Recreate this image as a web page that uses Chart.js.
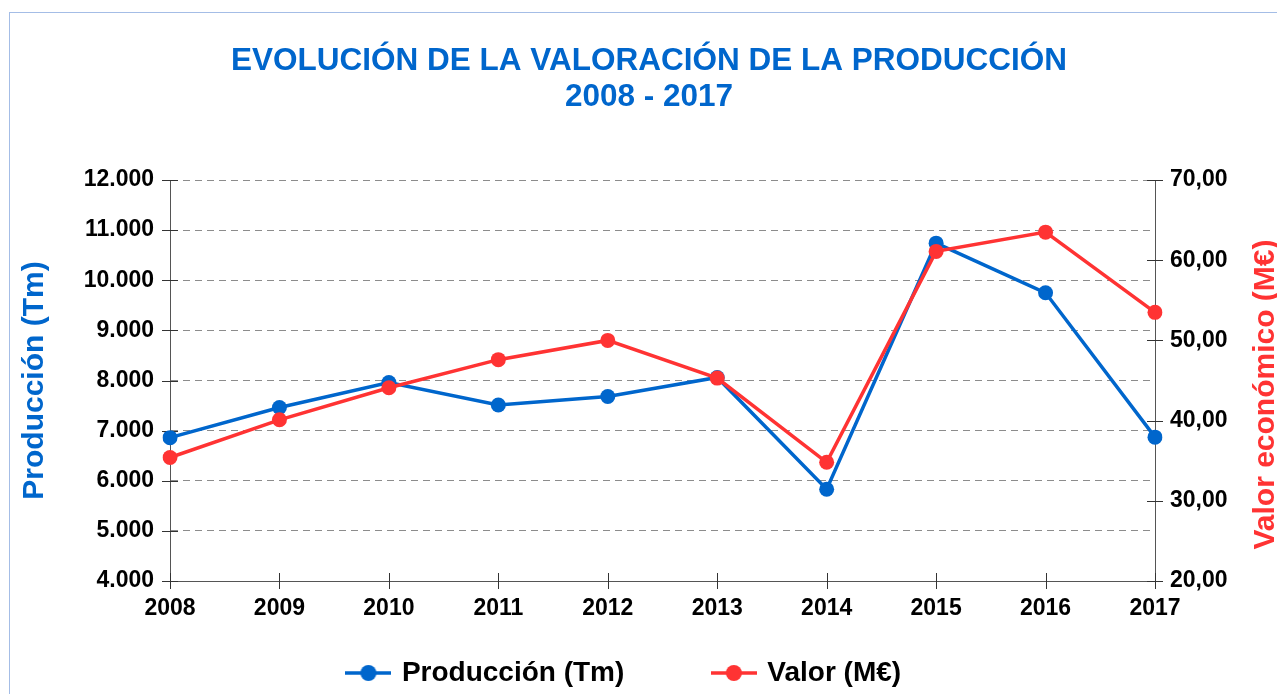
<!DOCTYPE html>
<html><head><meta charset="utf-8">
<script src="https://cdn.jsdelivr.net/npm/chart.js@4.4.1/dist/chart.umd.min.js"></script>
<style>html,body{margin:0;padding:0;background:#fff;overflow:hidden}canvas{display:block}</style>
</head><body>
<canvas id="c" width="1277" height="694"></canvas>
<script>
// ---- data ----
const years = ['2008','2009','2010','2011','2012','2013','2014','2015','2016','2017'];
const produccion = [6860, 7460, 7960, 7510, 7680, 8060, 5830, 10740, 9750, 6870];
const valor = [35.4, 40.1, 44.1, 47.6, 50.0, 45.3, 34.8, 61.1, 63.5, 53.5];
const titleLines = ['EVOLUCIÓN DE LA VALORACIÓN DE LA PRODUCCIÓN', '2008 - 2017'];
const seriesNames = ['Producción (Tm)', 'Valor (M€)'];
const leftAxisTitle = 'Producción (Tm)';
const rightAxisTitle = 'Valor económico (M€)';
const leftRange = [4000, 12000, 1000];
const rightRange = [20, 70, 10];

const BLUE = '#0066cc', RED = '#ff3333';
const FONT = '"Liberation Sans", Arial, Helvetica, sans-serif';

function fmtThousands(v){ return String(Math.round(v)).replace(/\B(?=(\d{3})+(?!\d))/g, '.'); }
function fmtDec(v){ return Number(v).toFixed(2).replace('.', ','); }

function legendIcon(color){
  const c = document.createElement('canvas');
  c.width = 46; c.height = 20;
  const x = c.getContext('2d');
  x.strokeStyle = color; x.lineWidth = 3.5;
  x.beginPath(); x.moveTo(0, 10); x.lineTo(46, 10); x.stroke();
  x.fillStyle = color; x.beginPath(); x.arc(23, 10, 8, 0, Math.PI*2); x.fill();
  return c;
}
const icons = [legendIcon(BLUE), legendIcon(RED)];

const framePlugin = {
  id: 'frame',
  beforeDraw(chart){
    const ctx = chart.ctx;
    ctx.save();
    ctx.fillStyle = '#fff'; ctx.fillRect(0,0,chart.width,chart.height);
    ctx.strokeStyle = '#a4bde6'; ctx.lineWidth = 1;
    ctx.strokeRect(9.5, 12.5, chart.width + 20, chart.height + 20);
    ctx.restore();
  }
};

const shiftPlugin = {
  id: 'shift',
  afterLayout(chart){
    const t = chart.titleBlock;
    if (t){ t.left += 10.5; t.right += 10.5; }
    const lg = chart.legend;
    if (lg){
      const p = lg.options.labels.padding;
      const fs = lg.options.labels.font.size;
      const dy = 673 - (lg.top + p + fs/2);
      lg.top += dy;
      lg.left -= 13.5; lg.right -= 13.5;
    }
  }
};

const crossTicks = {
  id: 'crossTicks',
  beforeDatasetsDraw(chart){
    const ctx = chart.ctx, a = chart.chartArea;
    ctx.save();
    ctx.strokeStyle = '#333'; ctx.lineWidth = 1;
    const L = 8;
    const x = chart.scales.x, y = chart.scales.y, y1 = chart.scales.y1;
    ctx.beginPath();
    x.ticks.forEach((t,i)=>{ const px = Math.round(x.getPixelForTick(i))+0.5; ctx.moveTo(px, a.bottom - L); ctx.lineTo(px, a.bottom + L); });
    y.ticks.forEach((t,i)=>{ const py = Math.round(y.getPixelForTick(i))+0.5; ctx.moveTo(a.left - L, py); ctx.lineTo(a.left + L, py); });
    y1.ticks.forEach((t,i)=>{ const py = Math.round(y1.getPixelForTick(i))+0.5; ctx.moveTo(a.right - L, py); ctx.lineTo(a.right + L, py); });
    ctx.stroke();
    ctx.restore();
  }
};

const rightTitle = {
  id: 'rightTitle',
  afterDraw(chart){
    const ctx = chart.ctx, a = chart.chartArea, s = chart.scales.y1;
    ctx.save();
    ctx.translate(s.right - 11, (a.top + a.bottom)/2 + 14);
    ctx.rotate(-Math.PI/2);
    ctx.font = 'bold 30px ' + FONT;
    ctx.fillStyle = RED;
    ctx.textAlign = 'center'; ctx.textBaseline = 'middle';
    ctx.fillText(rightAxisTitle, 0, 0);
    ctx.restore();
  }
};

new Chart(document.getElementById('c'), {
  type: 'line',
  data: {
    labels: years,
    datasets: [
      { label: seriesNames[0], data: produccion, yAxisID: 'y', order: 1,
        borderColor: BLUE, backgroundColor: BLUE, borderWidth: 3.5,
        pointRadius: 7.5, pointHoverRadius: 7.5, pointBackgroundColor: BLUE, pointBorderColor: BLUE, pointBorderWidth: 0,
        tension: 0, fill: false },
      { label: seriesNames[1], data: valor, yAxisID: 'y1', order: 0,
        borderColor: RED, backgroundColor: RED, borderWidth: 3.5,
        pointRadius: 7.5, pointHoverRadius: 7.5, pointBackgroundColor: RED, pointBorderColor: RED, pointBorderWidth: 0,
        tension: 0, fill: false }
    ]
  },
  options: {
    responsive: false,
    animation: false,
    devicePixelRatio: 1,
    layout: { padding: 0 },
    scales: {
      x: {
        offset: false,
        grid: { display: false, drawTicks: false },
        border: { display: true, color: '#555', width: 1 },
        ticks: { color: '#000', font: { family: FONT, size: 23, weight: 'bold' }, padding: 14, maxRotation: 0, autoSkip: false },
        afterFit(s){ s.height = 69; }
      },
      y: {
        position: 'left',
        min: leftRange[0], max: leftRange[1],
        grid: { display: true, drawTicks: false, color: '#8c8c8c', lineWidth: 1 },
        border: { display: true, color: '#555', width: 1, dash: [7,5] },
        ticks: { stepSize: leftRange[2], color: '#000', font: { family: FONT, size: 23, weight: 'bold' }, padding: 16,
                 callback: v => fmtThousands(v) },
        title: { display: true, text: leftAxisTitle, color: BLUE, font: { family: FONT, size: 30, weight: 'bold' }, padding: { top: 17, bottom: 0 } },
        afterFit(s){ s.width = 170; }
      },
      y1: {
        position: 'right',
        min: rightRange[0], max: rightRange[1],
        grid: { display: false, drawTicks: false },
        border: { display: true, color: '#555', width: 1 },
        ticks: { stepSize: rightRange[2], color: '#000', font: { family: FONT, size: 23, weight: 'bold' }, padding: 15,
                 callback: v => fmtDec(v) },
        afterFit(s){ s.width = 122; }
      }
    },
    plugins: {
      title: {
        display: true, text: titleLines, color: BLUE,
        font: { family: FONT, size: 31.5, weight: 'bold', lineHeight: 1.143 },
        padding: { top: 43, bottom: 65 }
      },
      legend: {
        display: true, position: 'bottom', maxHeight: 44,
        labels: {
          usePointStyle: true, pointStyleWidth: 39, padding: 90,
          color: '#000', font: { family: FONT, size: 28, weight: 'bold' },
          sort: (a, b) => a.datasetIndex - b.datasetIndex,
          generateLabels(chart){
            const items = Chart.defaults.plugins.legend.labels.generateLabels(chart);
            items.forEach(it => { it.pointStyle = icons[it.datasetIndex]; });
            return items;
          }
        }
      },
      tooltip: { enabled: false }
    }
  },
  plugins: [framePlugin, shiftPlugin, crossTicks, rightTitle]
});
</script>
</body></html>
